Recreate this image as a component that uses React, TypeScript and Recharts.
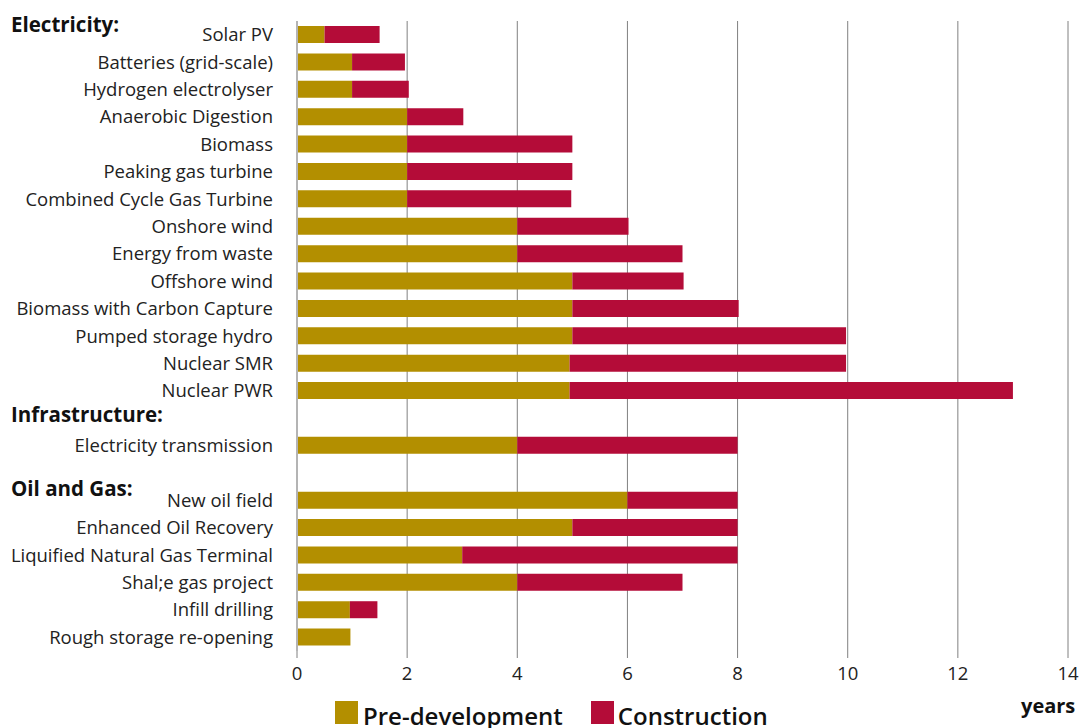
import React from "react";
import { BarChart, Bar, XAxis, YAxis, CartesianGrid } from "recharts";

// project types, top to bottom ("" and " " are spacer rows for the group headings)
const projects = [
  "Solar PV",
  "Batteries (grid-scale)",
  "Hydrogen electrolyser",
  "Anaerobic Digestion",
  "Biomass",
  "Peaking gas turbine",
  "Combined Cycle Gas Turbine",
  "Onshore wind",
  "Energy from waste",
  "Offshore wind",
  "Biomass with Carbon Capture",
  "Pumped storage hydro",
  "Nuclear SMR",
  "Nuclear PWR",
  "",
  "Electricity transmission",
  " ",
  "New oil field",
  "Enhanced Oil Recovery",
  "Liquified Natural Gas Terminal",
  "Shal;e gas project",
  "Infill drilling",
  "Rough storage re-opening",
];

const preDevelopment = [0.5, 1, 1, 2, 2, 2, 2, 4, 4, 5, 5, 5, 4.95, 4.95, 0, 4, 0, 6, 5, 3, 4, 0.96, 0.97];
const construction = [1, 0.96, 1.03, 1.02, 3, 3, 2.98, 2.02, 3, 2.02, 3.02, 4.97, 5.02, 8.05, 0, 4, 0, 2, 3, 5, 3, 0.5, 0];

const xTicks = [0, 2, 4, 6, 8, 10, 12, 14];

const GOLD = "#B38F00";
const RED = "#B40C38";
const FONT = "'Open Sans', sans-serif";

const data = projects.map((name, i) => ({
  name,
  pre: preDevelopment[i],
  con: construction[i],
}));

const heading: React.CSSProperties = {
  position: "absolute",
  left: 11,
  fontFamily: FONT,
  fontWeight: 700,
  fontSize: 20.5,
  color: "#111",
  lineHeight: "26px",
};

export default function App() {
  return (
    <div
      style={{
        position: "fixed",
        left: 0,
        top: 0,
        width: 1079,
        height: 728,
        background: "#fff",
        overflow: "hidden",
      }}
    >
      <BarChart
        width={1079}
        height={728}
        data={data}
        layout="vertical"
        margin={{ top: 21, right: 11, bottom: 0, left: 0 }}
        barSize={17}
      >
        <CartesianGrid horizontal={false} stroke="#808080" />
        <XAxis
          type="number"
          domain={[0, 14]}
          ticks={xTicks}
          axisLine={false}
          tickLine={{ stroke: "#808080" }}
          tickSize={7}
          tickMargin={9}
          height={77}
          tick={{ fill: "#222", fontSize: 18.5, fontFamily: FONT }}
        />
        <YAxis
          type="category"
          dataKey="name"
          width={297}
          interval={0}
          axisLine={{ stroke: "#b4b4b4", strokeWidth: 2 }}
          tickLine={false}
          tickSize={0}
          tickMargin={24}
          tick={{ fill: "#222", fontSize: 18.5, fontFamily: FONT }}
        />
        <Bar dataKey="pre" stackId="a" fill={GOLD} isAnimationActive={false} />
        <Bar dataKey="con" stackId="a" fill={RED} isAnimationActive={false} />
      </BarChart>

      <div style={{ ...heading, top: 11 }}>Electricity:</div>
      <div style={{ ...heading, top: 401 }}>Infrastructure:</div>
      <div style={{ ...heading, top: 475 }}>Oil and Gas:</div>

      <div
        style={{
          position: "absolute",
          left: 1021,
          top: 693,
          fontFamily: FONT,
          fontWeight: 700,
          fontSize: 20,
          color: "#111",
          lineHeight: "26px",
        }}
      >
        years
      </div>

      <div
        style={{
          position: "absolute",
          left: 335,
          top: 701,
          display: "flex",
          alignItems: "flex-start",
          fontFamily: FONT,
          fontWeight: 600,
          fontSize: 24,
          color: "#111",
          lineHeight: "30px",
        }}
      >
        <span style={{ width: 23, height: 23, background: GOLD, display: "inline-block" }} />
        <span style={{ marginLeft: 5, marginTop: 0 }}>Pre-development</span>
        <span
          style={{ width: 23, height: 23, background: RED, display: "inline-block", marginLeft: 28 }}
        />
        <span style={{ marginLeft: 4 }}>Construction</span>
      </div>
    </div>
  );
}
